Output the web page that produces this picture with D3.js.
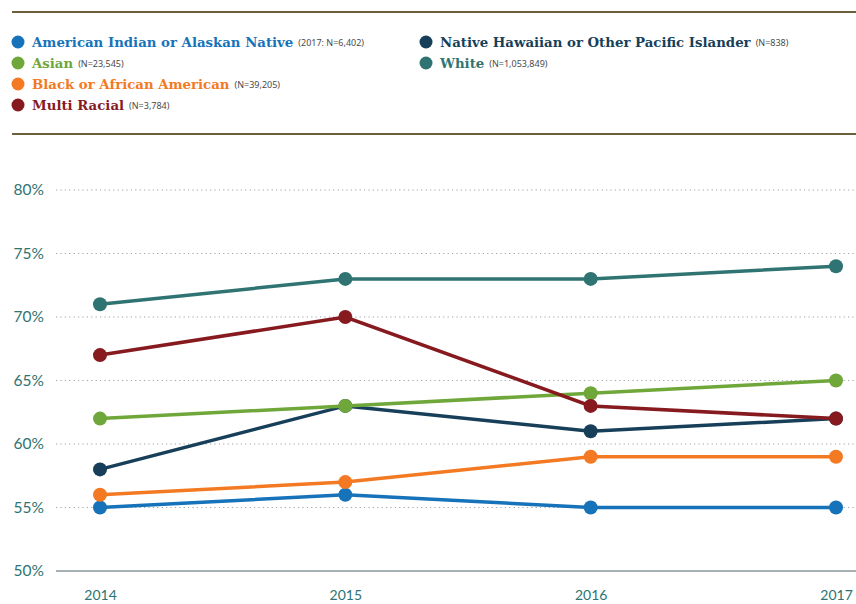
<!DOCTYPE html>
<html>
<head>
<meta charset="utf-8">
<script src="https://cdn.jsdelivr.net/npm/d3@7"></script>
<style>
  body { margin: 0; background: #fff; }
  svg { display: block; }
</style>
</head>
<body>
<svg id="chart" width="856" height="604"></svg>
<script>
var years = [2014, 2015, 2016, 2017];
var yTicks = [50, 55, 60, 65, 70, 75, 80];

var seriesNames = ["American Indian or Alaskan Native", "Native Hawaiian or Other Pacific Islander",
  "Black or African American", "Asian", "Multi Racial", "White"];
var seriesNotes = ["(2017: N=6,402)", "(N=838)", "(N=39,205)", "(N=23,545)", "(N=3,784)", "(N=1,053,849)"];
var seriesColors = ["#1673ba", "#173f59", "#f37a22", "#6fa73a", "#861a1f", "#2f7472"];

var aianValues  = [55, 56, 55, 55];
var nhpiValues  = [58, 63, 61, 62];
var blackValues = [56, 57, 59, 59];
var asianValues = [62, 63, 64, 65];
var multiValues = [67, 70, 63, 62];
var whiteValues = [71, 73, 73, 74];
var seriesValues = [aianValues, nhpiValues, blackValues, asianValues, multiValues, whiteValues];

// legend layout: column 1 rows, column 2 rows (by series index)
var legendCol1 = [0, 3, 2, 4];
var legendCol2 = [1, 5];

var svg = d3.select("#chart");

var xScale = d3.scalePoint()
  .domain(years)
  .range([100, 836]);

var yScale = d3.scaleLinear()
  .domain([50, 80])
  .range([571, 190]);

// top and bottom rules
svg.append("line")
  .attr("x1", 12).attr("x2", 856).attr("y1", 12).attr("y2", 12)
  .attr("stroke", "#6e5f3c").attr("stroke-width", 2);
svg.append("line")
  .attr("x1", 12).attr("x2", 856).attr("y1", 134).attr("y2", 134)
  .attr("stroke", "#6e5f3c").attr("stroke-width", 2);

// legend
function legendItem(idx, x, y) {
  var g = svg.append("g").attr("transform", "translate(" + x + "," + y + ")");
  g.append("circle").attr("cx", 0).attr("cy", 0).attr("r", 6.5).attr("fill", seriesColors[idx]);
  var t = g.append("text")
    .attr("x", 14).attr("y", 5)
    .attr("font-family", "DejaVu Serif")
    .attr("font-weight", "bold")
    .attr("font-size", 13.3)
    .attr("fill", seriesColors[idx])
    .text(seriesNames[idx]);
  var w = t.node().getComputedTextLength();
  g.append("text")
    .attr("x", 14 + w + 5).attr("y", 4)
    .attr("font-family", "Noto Sans")
    .attr("font-size", 9)
    .attr("fill", "#4a4a4a")
    .text(seriesNotes[idx]);
}
legendCol1.forEach(function(idx, i) { legendItem(idx, 18, 42 + i * 21); });
legendCol2.forEach(function(idx, i) { legendItem(idx, 426, 42 + i * 21); });

// gridlines
svg.append("g")
  .selectAll("line")
  .data(yTicks.filter(function(d) { return d > 50; }))
  .enter()
  .append("line")
    .attr("x1", 56).attr("x2", 856)
    .attr("y1", function(d) { return yScale(d); })
    .attr("y2", function(d) { return yScale(d); })
    .attr("stroke", "#9aa7ad")
    .attr("stroke-width", 1.2)
    .attr("stroke-dasharray", "1.2,3.2");

// baseline
svg.append("line")
  .attr("x1", 56).attr("x2", 856)
  .attr("y1", yScale(50)).attr("y2", yScale(50))
  .attr("stroke", "#8a979c").attr("stroke-width", 1.5);

// y labels
var yAxis = svg.append("g")
  .attr("transform", "translate(44,0)")
  .call(d3.axisLeft(yScale).tickValues(yTicks).tickSize(0).tickPadding(0)
    .tickFormat(function(d) { return d + "%"; }));
yAxis.select(".domain").remove();
yAxis.selectAll("text")
  .attr("font-family", "Lato")
  .attr("font-size", 15.5)
  .attr("fill", "#2f7472");

// x labels
var xAxis = svg.append("g")
  .attr("transform", "translate(0,590)")
  .call(d3.axisBottom(xScale).tickSize(0).tickPadding(0).tickFormat(d3.format("d")));
xAxis.select(".domain").remove();
xAxis.selectAll("text")
  .attr("font-family", "Lato")
  .attr("font-size", 14)
  .attr("fill", "#2f7472");

// series lines and dots
var line = d3.line()
  .x(function(d, i) { return xScale(years[i]); })
  .y(function(d) { return yScale(d); });

seriesValues.forEach(function(vals, k) {
  var g = svg.append("g");
  g.append("path")
    .datum(vals)
    .attr("d", line)
    .attr("fill", "none")
    .attr("stroke", seriesColors[k])
    .attr("stroke-width", 3.5);
  g.selectAll("circle")
    .data(vals)
    .enter()
    .append("circle")
      .attr("cx", function(d, i) { return xScale(years[i]); })
      .attr("cy", function(d) { return yScale(d); })
      .attr("r", 7)
      .attr("fill", seriesColors[k]);
});
</script>
</body>
</html>
